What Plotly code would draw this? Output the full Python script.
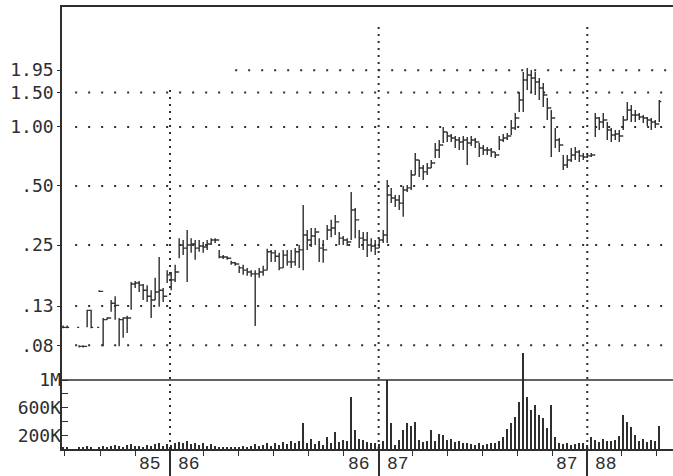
import numpy as np
import pandas as pd
import plotly.graph_objects as go

# ---------------- data (weekly, starting 1985-06-28) ----------------
start_date = "1985-06-28"

high = [.097, .097, None, None, .077, .077, .117, .117, None, .147,
        .106, .107, .131, .137, .106, .107, .109, .162, .164, .164,
        .158, .156, .147, .170, .217, .151, .186, .182, .198, .271,
        .265, .298, .271, .265, .265, .259, .265, .271, .271, .236,
        .222, .219, .208, .205, .196, .198, .191, .186, .186, .191,
        .196, .239, .236, .236, .228, .236, .236, .236, .241, .250,
        .400, .298, .305, .305, .271, .265, .316, .336, .356, .291,
        .278, .271, .466, .386, .298, .291, .291, .271, .265, .271,
        .298, .537, .489, .450, .450, .500, .506, .604, .737, .679,
        .640, .655, .679, .828, .858, 1.00, .943, .921, .899, .889,
        .899, .889, .899, .879, .828, .809, .790, .781, .745, .899,
        .921, .931, 1.086, 1.178, 1.508, 1.909, 2.00, 1.954, 1.909, 1.778,
        1.677, 1.406, 1.221, .989, .879, .720, .720, .781, .790, .763,
        .737, .729, .737, 1.178, 1.124, 1.178, 1.061, .989, .965, .965,
        1.138, 1.341, 1.295, 1.221, 1.178, 1.151, 1.124, 1.112, 1.086, 1.373]

low = [.094, .094, None, None, .075, .075, .095, .094, None, .144,
       .076, .104, .114, .104, .076, .084, .089, .117, .151, .144,
       .131, .128, .106, .131, .121, .128, .160, .147, .162, .214,
       .222, .162, .228, .210, .231, .228, .236, .250, .256, .214,
       .212, .210, .198, .196, .180, .176, .174, .172, .0966, .170,
       .174, .186, .205, .205, .186, .191, .196, .191, .196, .191,
       .186, .236, .244, .250, .205, .203, .265, .274, .281, .250,
       .250, .247, .265, .271, .241, .236, .217, .231, .222, .241,
       .256, .256, .409, .391, .377, .348, .466, .477, .569, .556,
       .537, .569, .618, .695, .695, .828, .838, .838, .781, .763,
       .763, .640, .800, .781, .703, .720, .720, .703, .695, .763,
       .838, .858, .910, .965, 1.193, 1.193, 1.544, 1.491, 1.456, 1.373,
       1.265, 1.086, .703, .781, .745, .604, .618, .663, .679, .663,
       .679, .695, .703, .889, .965, .989, .858, .838, .858, .838,
       .965, 1.086, 1.061, 1.061, 1.086, 1.048, 1.012, .965, .989, 1.061]

close = [.095, .095, None, None, .076, .076, .116, .095, None, .145,
         .104, .106, .126, .123, .104, .106, .106, .158, .160, .156,
         .147, .137, .131, .144, .147, .137, .176, .166, .182, .250,
         .241, .250, .253, .241, .247, .244, .253, .265, .265, .217,
         .217, .214, .203, .200, .191, .186, .182, .178, .178, .182,
         .186, .231, .228, .219, .191, .222, .205, .205, .231, .236,
         .281, .265, .278, .291, .241, .236, .298, .305, .328, .271,
         .265, .259, .377, .336, .271, .265, .250, .247, .241, .265,
         .281, .450, .434, .424, .409, .477, .489, .569, .679, .618,
         .590, .618, .655, .763, .809, .943, .899, .879, .858, .838,
         .858, .828, .858, .838, .781, .763, .763, .745, .720, .858,
         .879, .899, .989, 1.112, 1.373, 1.737, 1.842, 1.778, 1.697, 1.581,
         1.456, 1.250, 1.111, .858, .809, .640, .679, .720, .745, .712,
         .703, .712, .720, 1.112, 1.061, 1.086, .965, .910, .921, .899,
         1.086, 1.221, 1.151, 1.151, 1.124, 1.112, 1.086, 1.061, 1.036, 1.35]

volume_k = [20, 15, None, None, 25, 15, 40, 20, None, 30,
            50, 30, 45, 60, 40, 30, 55, 70, 40, 50,
            35, 60, 45, 70, 90, 50, 75, 60, 80, 100,
            90, 110, 70, 90, 60, 80, 50, 70, 40, 30,
            25, 35, 20, 30, 25, 40, 30, 50, 70, 40,
            60, 80, 50, 90, 60, 100, 70, 110, 80, 120,
            380, 90, 150, 70, 110, 60, 180, 80, 250, 100,
            130, 120, 750, 270, 150, 130, 100, 90, 80, 70,
            120, 1000, 380, 60, 130, 275, 375, 330, 390, 130,
            100, 110, 275, 120, 215, 210, 130, 150, 100, 120,
            80, 90, 70, 60, 80, 60, 70, 90, 80, 120,
            170, 290, 375, 460, 680, 1390, 750, 565, 640, 490,
            450, 300, 640, 170, 90, 70, 80, 60, 70, 90,
            80, 60, 170, 130, 100, 150, 120, 110, 130, 190,
            490, 390, 320, 200, 120, 140, 100, 130, 110, 330]

price_tick_vals = [1.95, 1.50, 1.00, 0.50, 0.25, 0.122, 0.077]
price_tick_text = ["1.95", "1.50", "1.00", ".50", ".25", ".13", ".08"]
vol_tick_vals = [200e3, 400e3, 600e3, 800e3, 1e6]
vol_tick_text = ["200K", "", "600K", "", "1M"]

year_bounds = ["1986-01-01", "1987-01-01", "1988-01-01"]
labels_left = ["85", "86", "87"]
labels_right = ["86", "87", "88"]

x_range = ["1985-06-26", "1988-05-30"]
grid_start = "1985-07-19"
grid_start_top = "1986-04-25"

# ---------------- build ----------------
ink = "#2e2e2e"
dates = pd.date_range(start_date, periods=len(close), freq="7D")
df = pd.DataFrame({"date": dates, "high": high, "low": low,
                   "close": close, "vol": volume_k})
px_df = df.dropna(subset=["close"]).copy()
px_df["open"] = px_df["close"].shift(1).fillna(px_df["close"])
vol_df = df.dropna(subset=["vol"])

y_lo = 10 ** -1.6429

fig = go.Figure()

# horizontal dotted grid lines
for v in price_tick_vals:
    xs = grid_start_top if v == 1.95 else grid_start
    fig.add_trace(go.Scatter(x=[xs, x_range[1]], y=[v, v], mode="lines",
                             line=dict(color=ink, width=2, dash="2px,11px"),
                             hoverinfo="skip", showlegend=False))

# vertical dotted year lines
for i, d in enumerate(year_bounds):
    top = 1.55 if i == 0 else 3.43
    fig.add_trace(go.Scatter(x=[d, d], y=[y_lo, top], mode="lines",
                             line=dict(color=ink, width=2, dash="2px,5px"),
                             hoverinfo="skip", showlegend=False))

# volume bars
fig.add_trace(go.Bar(x=vol_df["date"], y=vol_df["vol"] * 1000, yaxis="y2",
                     width=1.9e8, marker=dict(color=ink, line=dict(width=0)),
                     showlegend=False))

# price bars
fig.add_trace(go.Ohlc(x=px_df["date"], open=px_df["open"], high=px_df["high"],
                      low=px_df["low"], close=px_df["close"], tickwidth=0.5,
                      increasing=dict(line=dict(color=ink, width=1.4)),
                      decreasing=dict(line=dict(color=ink, width=1.4)),
                      showlegend=False))

# 1M line
fig.add_trace(go.Scatter(x=x_range, y=[1e6, 1e6], yaxis="y2", mode="lines",
                         line=dict(color=ink, width=1.5), hoverinfo="skip",
                         showlegend=False))

annotations = []
for d, l, r in zip(year_bounds, labels_left, labels_right):
    for txt, anchor, shift in ((l, "right", -8), (r, "left", 7)):
        annotations.append(dict(x=d, y=-0.059, xref="x", yref="paper", text=txt,
                                xanchor=anchor, yanchor="bottom", xshift=shift,
                                showarrow=False, borderpad=0,
                                font=dict(family="Liberation Mono", size=18,
                                          color=ink)))

fig.update_layout(
    width=673, height=476,
    margin=dict(l=62, r=0, t=7, b=27),
    paper_bgcolor="white", plot_bgcolor="white",
    showlegend=False,
    bargap=0,
    annotations=annotations,
    xaxis=dict(type="date", range=x_range, showline=True, mirror=True,
               linecolor=ink, linewidth=1.5, showgrid=False, zeroline=False,
               tickmode="array", tickvals=year_bounds, ticks="outside",
               ticklen=26, tickwidth=1.5, tickcolor=ink, showticklabels=False,
               minor=dict(ticks="outside", ticklen=5, tickwidth=1.2,
                          tickcolor=ink, dtick="M2", tick0="1985-07-01",
                          showgrid=False),
               rangeslider=dict(visible=False)),
    yaxis=dict(type="log", range=[-1.6429, 0.6122], showline=True,
               linecolor=ink, linewidth=1.5, showgrid=False, zeroline=False,
               tickmode="array", tickvals=price_tick_vals,
               ticktext=price_tick_text, ticks="outside", ticklen=3,
               tickcolor=ink,
               tickfont=dict(family="DejaVu Sans Mono", size=18, color=ink)),
    yaxis2=dict(overlaying="y", side="left", range=[0, 6.406e6],
                showline=False, showgrid=False, zeroline=False,
                tickmode="array", tickvals=vol_tick_vals, ticktext=vol_tick_text,
                ticks="inside", ticklen=6, tickwidth=1.3, tickcolor=ink,
                tickfont=dict(family="DejaVu Sans Mono", size=18, color=ink)),
)

fig.write_html("out.html")
